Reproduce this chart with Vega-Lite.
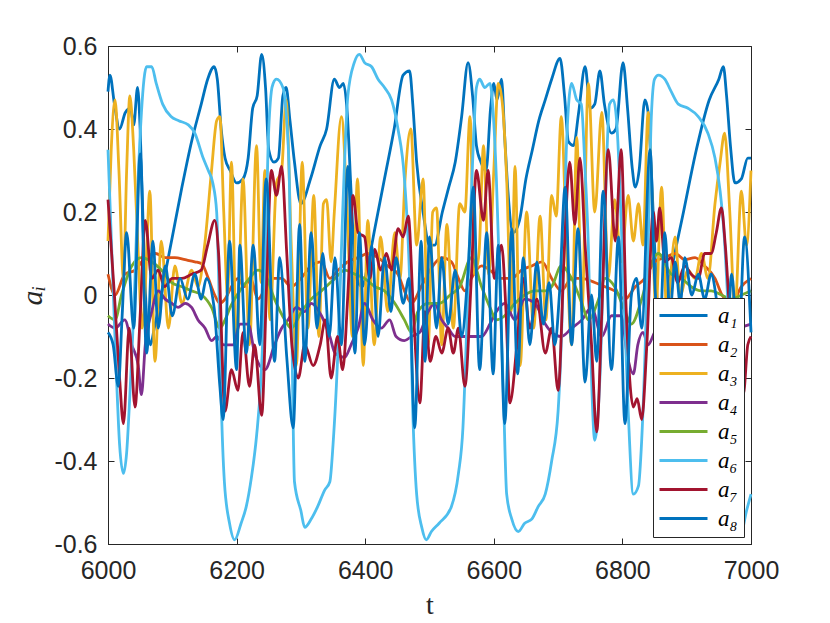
{
"$schema":"https://vega.github.io/schema/vega-lite/v6.json",
"width":643,"height":498,
"autosize":{"type":"none"},
"padding":{"left":108,"top":46,"right":79,"bottom":79},
"background":"white",
"config":{"view":{"stroke":"#262626","strokeWidth":1},"axis":{"grid":false,"labelFlush":false,"domainColor":"#262626","tickColor":"#262626","labelColor":"#262626","labelFont":"Liberation Sans","labelFontSize":25,"titleColor":"#262626"},"line":{"strokeWidth":2.8,"interpolate":"monotone","clip":true}},
"datasets":{
"a1":[{"t":6000,"v":0.49},{"t":6003,"v":0.53},{"t":6010,"v":0.46},{"t":6018,"v":0.40},{"t":6027,"v":0.44},{"t":6035,"v":0.45},{"t":6040,"v":0.41},{"t":6046,"v":0.50},{"t":6050,"v":0.40},{"t":6055,"v":0.15},{"t":6060,"v":-0.05},{"t":6066,"v":-0.12},{"t":6072,"v":-0.08},{"t":6085,"v":0.02},{"t":6100,"v":0.14},{"t":6115,"v":0.26},{"t":6130,"v":0.37},{"t":6145,"v":0.46},{"t":6155,"v":0.52},{"t":6165,"v":0.55},{"t":6170,"v":0.52},{"t":6176,"v":0.40},{"t":6182,"v":0.33},{"t":6190,"v":0.30},{"t":6200,"v":0.27},{"t":6210,"v":0.28},{"t":6218,"v":0.33},{"t":6225,"v":0.45},{"t":6232,"v":0.48},{"t":6239,"v":0.58},{"t":6245,"v":0.50},{"t":6250,"v":0.35},{"t":6258,"v":0.32},{"t":6265,"v":0.33},{"t":6272,"v":0.48},{"t":6277,"v":0.50},{"t":6283,"v":0.42},{"t":6290,"v":0.32},{"t":6300,"v":0.22},{"t":6315,"v":0.28},{"t":6330,"v":0.36},{"t":6340,"v":0.40},{"t":6352,"v":0.52},{"t":6360,"v":0.50},{"t":6366,"v":0.51},{"t":6372,"v":0.44},{"t":6378,"v":0.25},{"t":6385,"v":0.05},{"t":6395,"v":0.02},{"t":6405,"v":0.08},{"t":6415,"v":0.16},{"t":6430,"v":0.28},{"t":6445,"v":0.40},{"t":6459,"v":0.53},{"t":6469,"v":0.54},{"t":6474,"v":0.46},{"t":6480,"v":0.32},{"t":6490,"v":0.20},{"t":6500,"v":0.12},{"t":6508,"v":0.12},{"t":6520,"v":0.20},{"t":6530,"v":0.26},{"t":6540,"v":0.32},{"t":6550,"v":0.43},{"t":6560,"v":0.56},{"t":6567,"v":0.48},{"t":6573,"v":0.36},{"t":6580,"v":0.32},{"t":6588,"v":0.30},{"t":6595,"v":0.45},{"t":6600,"v":0.51},{"t":6605,"v":0.47},{"t":6612,"v":0.52},{"t":6617,"v":0.38},{"t":6622,"v":0.25},{"t":6630,"v":0.15},{"t":6640,"v":0.18},{"t":6650,"v":0.28},{"t":6660,"v":0.35},{"t":6670,"v":0.42},{"t":6680,"v":0.47},{"t":6690,"v":0.52},{"t":6703,"v":0.57},{"t":6710,"v":0.48},{"t":6716,"v":0.37},{"t":6724,"v":0.36},{"t":6732,"v":0.44},{"t":6742,"v":0.55},{"t":6750,"v":0.45},{"t":6757,"v":0.46},{"t":6765,"v":0.54},{"t":6772,"v":0.46},{"t":6783,"v":0.39},{"t":6790,"v":0.40},{"t":6801,"v":0.56},{"t":6808,"v":0.45},{"t":6815,"v":0.31},{"t":6820,"v":0.26},{"t":6826,"v":0.30},{"t":6835,"v":0.47},{"t":6840,"v":0.44},{"t":6845,"v":0.30},{"t":6852,"v":0.05},{"t":6858,"v":-0.10},{"t":6875,"v":0.05},{"t":6895,"v":0.20},{"t":6915,"v":0.35},{"t":6935,"v":0.47},{"t":6950,"v":0.52},{"t":6957,"v":0.55},{"t":6962,"v":0.48},{"t":6968,"v":0.36},{"t":6975,"v":0.27},{"t":6985,"v":0.28},{"t":6995,"v":0.33},{"t":7000,"v":0.33}],
"a2":[{"t":6000,"v":0.05},{"t":6011,"v":0.0},{"t":6026,"v":0.05},{"t":6042,"v":0.06},{"t":6058,"v":0.09},{"t":6074,"v":0.10},{"t":6089,"v":0.09},{"t":6104,"v":0.09},{"t":6120,"v":0.085},{"t":6135,"v":0.08},{"t":6146,"v":0.075},{"t":6156,"v":0.04},{"t":6166,"v":0.0},{"t":6174,"v":-0.02},{"t":6182,"v":-0.01},{"t":6192,"v":0.02},{"t":6202,"v":0.04},{"t":6212,"v":0.02},{"t":6222,"v":0.04},{"t":6233,"v":-0.01},{"t":6246,"v":0.02},{"t":6257,"v":0.04},{"t":6270,"v":0.04},{"t":6285,"v":0.02},{"t":6300,"v":0.04},{"t":6316,"v":0.07},{"t":6332,"v":0.08},{"t":6345,"v":0.04},{"t":6358,"v":0.06},{"t":6373,"v":0.08},{"t":6389,"v":0.09},{"t":6404,"v":0.10},{"t":6420,"v":0.09},{"t":6435,"v":0.07},{"t":6451,"v":0.05},{"t":6461,"v":0.01},{"t":6472,"v":-0.02},{"t":6487,"v":0.02},{"t":6503,"v":0.065},{"t":6519,"v":0.09},{"t":6534,"v":0.08},{"t":6545,"v":0.04},{"t":6555,"v":0.01},{"t":6565,"v":0.04},{"t":6581,"v":0.07},{"t":6594,"v":0.06},{"t":6610,"v":0.04},{"t":6628,"v":0.04},{"t":6643,"v":0.06},{"t":6659,"v":0.07},{"t":6675,"v":0.08},{"t":6690,"v":0.04},{"t":6705,"v":0.01},{"t":6721,"v":0.04},{"t":6737,"v":0.04},{"t":6757,"v":0.03},{"t":6773,"v":0.02},{"t":6788,"v":0.01},{"t":6804,"v":-0.01},{"t":6820,"v":0.02},{"t":6835,"v":0.04},{"t":6850,"v":0.08},{"t":6866,"v":0.09},{"t":6882,"v":0.10},{"t":6897,"v":0.085},{"t":6913,"v":0.09},{"t":6928,"v":0.07},{"t":6944,"v":0.04},{"t":6955,"v":0.0},{"t":6970,"v":-0.02},{"t":6985,"v":0.02},{"t":7000,"v":0.04}],
"a3":[{"t":6000,"v":0.13},{"t":6005,"v":0.35},{"t":6011,"v":0.47},{"t":6017,"v":0.30},{"t":6024,"v":0.04},{"t":6029,"v":0.30},{"t":6034,"v":0.48},{"t":6040,"v":0.35},{"t":6047,"v":0.10},{"t":6053,"v":-0.08},{"t":6058,"v":0.02},{"t":6065,"v":0.25},{"t":6073,"v":-0.16},{"t":6083,"v":0.13},{"t":6094,"v":-0.08},{"t":6104,"v":0.07},{"t":6115,"v":-0.02},{"t":6130,"v":0.06},{"t":6140,"v":0.02},{"t":6151,"v":0.13},{"t":6161,"v":0.30},{"t":6169,"v":0.42},{"t":6174,"v":0.43},{"t":6180,"v":0.20},{"t":6186,"v":0.0},{"t":6192,"v":0.32},{"t":6200,"v":-0.12},{"t":6210,"v":0.28},{"t":6220,"v":-0.12},{"t":6231,"v":0.36},{"t":6238,"v":0.03},{"t":6244,"v":0.30},{"t":6252,"v":-0.06},{"t":6262,"v":0.27},{"t":6270,"v":0.30},{"t":6277,"v":0.47},{"t":6285,"v":0.12},{"t":6293,"v":-0.17},{"t":6302,"v":0.32},{"t":6311,"v":-0.08},{"t":6320,"v":0.24},{"t":6328,"v":-0.10},{"t":6335,"v":0.22},{"t":6340,"v":0.23},{"t":6347,"v":0.08},{"t":6352,"v":0.20},{"t":6363,"v":0.43},{"t":6372,"v":0.20},{"t":6380,"v":-0.10},{"t":6388,"v":0.28},{"t":6397,"v":-0.17},{"t":6404,"v":0.18},{"t":6414,"v":-0.12},{"t":6424,"v":0.14},{"t":6435,"v":-0.04},{"t":6446,"v":0.15},{"t":6454,"v":0.04},{"t":6462,"v":0.28},{"t":6471,"v":0.40},{"t":6480,"v":0.12},{"t":6490,"v":0.28},{"t":6498,"v":-0.12},{"t":6505,"v":0.20},{"t":6511,"v":0.21},{"t":6519,"v":-0.12},{"t":6527,"v":0.17},{"t":6537,"v":-0.08},{"t":6547,"v":0.22},{"t":6555,"v":0.20},{"t":6563,"v":0.43},{"t":6570,"v":0.05},{"t":6577,"v":0.10},{"t":6584,"v":0.36},{"t":6592,"v":0.05},{"t":6600,"v":0.30},{"t":6607,"v":0.51},{"t":6614,"v":0.45},{"t":6620,"v":0.28},{"t":6627,"v":-0.04},{"t":6633,"v":0.31},{"t":6641,"v":-0.17},{"t":6651,"v":0.20},{"t":6662,"v":-0.08},{"t":6672,"v":0.19},{"t":6681,"v":-0.06},{"t":6690,"v":0.24},{"t":6697,"v":0.19},{"t":6705,"v":0.43},{"t":6713,"v":0.12},{"t":6721,"v":-0.12},{"t":6729,"v":0.38},{"t":6737,"v":-0.04},{"t":6747,"v":0.51},{"t":6757,"v":0.20},{"t":6768,"v":0.44},{"t":6778,"v":0.04},{"t":6788,"v":0.23},{"t":6798,"v":0.08},{"t":6809,"v":0.24},{"t":6817,"v":0.13},{"t":6825,"v":0.22},{"t":6832,"v":0.12},{"t":6840,"v":0.44},{"t":6845,"v":0.28},{"t":6852,"v":-0.04},{"t":6861,"v":0.26},{"t":6869,"v":-0.04},{"t":6882,"v":0.14},{"t":6890,"v":0.0},{"t":6902,"v":0.06},{"t":6913,"v":0.04},{"t":6923,"v":0.10},{"t":6933,"v":0.04},{"t":6944,"v":0.22},{"t":6952,"v":0.32},{"t":6959,"v":0.39},{"t":6967,"v":0.20},{"t":6975,"v":-0.04},{"t":6985,"v":0.25},{"t":6993,"v":0.12},{"t":7000,"v":0.30}],
"a4":[{"t":6000,"v":-0.07},{"t":6011,"v":-0.08},{"t":6026,"v":-0.06},{"t":6037,"v":-0.12},{"t":6047,"v":-0.17},{"t":6052,"v":-0.24},{"t":6058,"v":-0.12},{"t":6068,"v":-0.04},{"t":6078,"v":0.01},{"t":6089,"v":-0.01},{"t":6099,"v":-0.02},{"t":6109,"v":-0.03},{"t":6120,"v":-0.02},{"t":6130,"v":-0.03},{"t":6140,"v":-0.06},{"t":6151,"v":-0.08},{"t":6161,"v":-0.11},{"t":6169,"v":-0.10},{"t":6180,"v":-0.12},{"t":6195,"v":-0.12},{"t":6205,"v":-0.07},{"t":6218,"v":-0.07},{"t":6228,"v":-0.14},{"t":6244,"v":-0.18},{"t":6259,"v":-0.12},{"t":6270,"v":-0.08},{"t":6280,"v":-0.06},{"t":6293,"v":-0.03},{"t":6306,"v":-0.04},{"t":6316,"v":-0.02},{"t":6332,"v":-0.05},{"t":6345,"v":-0.10},{"t":6353,"v":-0.14},{"t":6368,"v":-0.15},{"t":6378,"v":-0.12},{"t":6389,"v":-0.08},{"t":6399,"v":-0.02},{"t":6412,"v":-0.06},{"t":6425,"v":-0.08},{"t":6438,"v":-0.06},{"t":6448,"v":-0.10},{"t":6461,"v":-0.11},{"t":6472,"v":-0.10},{"t":6485,"v":-0.09},{"t":6498,"v":-0.04},{"t":6508,"v":-0.02},{"t":6519,"v":-0.06},{"t":6529,"v":-0.08},{"t":6540,"v":-0.10},{"t":6555,"v":-0.10},{"t":6566,"v":-0.10},{"t":6581,"v":-0.10},{"t":6594,"v":-0.07},{"t":6604,"v":-0.04},{"t":6617,"v":-0.02},{"t":6633,"v":-0.06},{"t":6648,"v":-0.01},{"t":6664,"v":-0.02},{"t":6680,"v":-0.07},{"t":6690,"v":-0.09},{"t":6705,"v":-0.10},{"t":6721,"v":-0.08},{"t":6737,"v":-0.06},{"t":6752,"v":-0.03},{"t":6768,"v":-0.10},{"t":6783,"v":-0.05},{"t":6798,"v":-0.05},{"t":6808,"v":-0.15},{"t":6817,"v":-0.19},{"t":6824,"v":-0.12},{"t":6832,"v":-0.09},{"t":6840,"v":-0.12},{"t":6850,"v":-0.09},{"t":6870,"v":-0.05},{"t":6900,"v":-0.06},{"t":6930,"v":-0.07},{"t":6960,"v":-0.09},{"t":6980,"v":-0.08},{"t":7000,"v":-0.07}],
"a5":[{"t":6000,"v":-0.05},{"t":6011,"v":-0.06},{"t":6021,"v":0.0},{"t":6037,"v":0.07},{"t":6052,"v":0.09},{"t":6068,"v":0.08},{"t":6083,"v":0.06},{"t":6099,"v":0.03},{"t":6115,"v":0.02},{"t":6130,"v":0.01},{"t":6146,"v":0.0},{"t":6161,"v":-0.03},{"t":6174,"v":-0.08},{"t":6182,"v":-0.06},{"t":6190,"v":-0.03},{"t":6205,"v":0.01},{"t":6220,"v":0.04},{"t":6233,"v":0.06},{"t":6244,"v":0.05},{"t":6259,"v":-0.01},{"t":6275,"v":-0.06},{"t":6285,"v":-0.08},{"t":6301,"v":-0.04},{"t":6316,"v":-0.01},{"t":6332,"v":0.01},{"t":6353,"v":0.04},{"t":6368,"v":0.06},{"t":6384,"v":0.05},{"t":6399,"v":0.04},{"t":6415,"v":0.02},{"t":6430,"v":0.01},{"t":6446,"v":-0.02},{"t":6461,"v":-0.06},{"t":6472,"v":-0.09},{"t":6482,"v":-0.04},{"t":6498,"v":-0.02},{"t":6516,"v":-0.02},{"t":6532,"v":0.0},{"t":6547,"v":0.02},{"t":6565,"v":0.09},{"t":6581,"v":0.02},{"t":6594,"v":-0.03},{"t":6604,"v":-0.06},{"t":6617,"v":-0.05},{"t":6633,"v":-0.02},{"t":6648,"v":0.0},{"t":6664,"v":0.01},{"t":6680,"v":0.01},{"t":6690,"v":0.02},{"t":6705,"v":0.07},{"t":6721,"v":0.04},{"t":6737,"v":-0.02},{"t":6747,"v":-0.06},{"t":6763,"v":-0.01},{"t":6773,"v":0.04},{"t":6788,"v":0.02},{"t":6804,"v":-0.04},{"t":6814,"v":-0.07},{"t":6830,"v":-0.01},{"t":6846,"v":0.08},{"t":6856,"v":0.10},{"t":6876,"v":0.05},{"t":6892,"v":0.04},{"t":6907,"v":0.02},{"t":6923,"v":0.01},{"t":6938,"v":0.01},{"t":6954,"v":0.0},{"t":6970,"v":-0.01},{"t":6985,"v":0.0},{"t":7000,"v":0.01}],
"a6":[{"t":6000,"v":0.35},{"t":6006,"v":0.10},{"t":6012,"v":-0.15},{"t":6018,"v":-0.36},{"t":6024,"v":-0.43},{"t":6029,"v":-0.38},{"t":6034,"v":-0.24},{"t":6042,"v":0.04},{"t":6047,"v":0.28},{"t":6052,"v":0.44},{"t":6060,"v":0.55},{"t":6068,"v":0.55},{"t":6075,"v":0.51},{"t":6085,"v":0.46},{"t":6098,"v":0.43},{"t":6110,"v":0.42},{"t":6125,"v":0.41},{"t":6135,"v":0.39},{"t":6148,"v":0.33},{"t":6156,"v":0.30},{"t":6163,"v":0.27},{"t":6169,"v":0.20},{"t":6172,"v":0.05},{"t":6176,"v":-0.25},{"t":6181,"v":-0.45},{"t":6189,"v":-0.55},{"t":6197,"v":-0.59},{"t":6207,"v":-0.55},{"t":6215,"v":-0.51},{"t":6223,"v":-0.44},{"t":6231,"v":-0.34},{"t":6238,"v":-0.20},{"t":6244,"v":0.04},{"t":6249,"v":0.36},{"t":6254,"v":0.49},{"t":6257,"v":0.51},{"t":6262,"v":0.52},{"t":6272,"v":0.50},{"t":6277,"v":0.44},{"t":6282,"v":0.28},{"t":6286,"v":-0.10},{"t":6290,"v":-0.45},{"t":6300,"v":-0.52},{"t":6306,"v":-0.56},{"t":6316,"v":-0.54},{"t":6326,"v":-0.51},{"t":6337,"v":-0.47},{"t":6345,"v":-0.45},{"t":6350,"v":-0.36},{"t":6358,"v":-0.12},{"t":6365,"v":0.20},{"t":6373,"v":0.48},{"t":6383,"v":0.56},{"t":6391,"v":0.58},{"t":6399,"v":0.56},{"t":6410,"v":0.55},{"t":6420,"v":0.52},{"t":6430,"v":0.50},{"t":6441,"v":0.47},{"t":6451,"v":0.40},{"t":6461,"v":0.28},{"t":6469,"v":0.04},{"t":6474,"v":-0.28},{"t":6480,"v":-0.48},{"t":6488,"v":-0.56},{"t":6495,"v":-0.59},{"t":6503,"v":-0.57},{"t":6515,"v":-0.55},{"t":6534,"v":-0.51},{"t":6545,"v":-0.43},{"t":6552,"v":-0.32},{"t":6557,"v":-0.12},{"t":6562,"v":0.12},{"t":6568,"v":0.36},{"t":6573,"v":0.50},{"t":6578,"v":0.52},{"t":6586,"v":0.50},{"t":6594,"v":0.51},{"t":6599,"v":0.44},{"t":6604,"v":0.28},{"t":6609,"v":0.04},{"t":6615,"v":-0.24},{"t":6620,"v":-0.48},{"t":6628,"v":-0.54},{"t":6638,"v":-0.57},{"t":6648,"v":-0.55},{"t":6659,"v":-0.54},{"t":6669,"v":-0.51},{"t":6680,"v":-0.48},{"t":6690,"v":-0.40},{"t":6700,"v":-0.28},{"t":6708,"v":0.04},{"t":6713,"v":0.36},{"t":6721,"v":0.51},{"t":6729,"v":0.47},{"t":6736,"v":0.46},{"t":6742,"v":0.30},{"t":6747,"v":0.12},{"t":6752,"v":-0.20},{"t":6757,"v":-0.35},{"t":6765,"v":-0.20},{"t":6773,"v":0.20},{"t":6780,"v":0.46},{"t":6786,"v":0.47},{"t":6791,"v":0.42},{"t":6800,"v":0.10},{"t":6809,"v":-0.28},{"t":6817,"v":-0.48},{"t":6825,"v":-0.46},{"t":6830,"v":-0.35},{"t":6836,"v":-0.10},{"t":6840,"v":0.12},{"t":6845,"v":0.43},{"t":6850,"v":0.52},{"t":6856,"v":0.53},{"t":6866,"v":0.52},{"t":6876,"v":0.49},{"t":6887,"v":0.46},{"t":6902,"v":0.45},{"t":6918,"v":0.43},{"t":6933,"v":0.39},{"t":6944,"v":0.33},{"t":6952,"v":0.25},{"t":6958,"v":0.15},{"t":6965,"v":-0.05},{"t":6972,"v":-0.30},{"t":6980,"v":-0.50},{"t":6985,"v":-0.57},{"t":6993,"v":-0.52},{"t":7000,"v":-0.48}],
"a7":[{"t":6000,"v":0.23},{"t":6010,"v":0.0},{"t":6018,"v":-0.20},{"t":6024,"v":-0.31},{"t":6033,"v":-0.08},{"t":6042,"v":-0.27},{"t":6050,"v":-0.05},{"t":6058,"v":0.18},{"t":6068,"v":0.04},{"t":6078,"v":0.06},{"t":6088,"v":0.02},{"t":6100,"v":0.04},{"t":6115,"v":0.04},{"t":6130,"v":0.05},{"t":6145,"v":0.06},{"t":6155,"v":0.12},{"t":6166,"v":0.18},{"t":6172,"v":0.10},{"t":6182,"v":-0.28},{"t":6192,"v":-0.18},{"t":6202,"v":-0.23},{"t":6210,"v":-0.09},{"t":6220,"v":-0.22},{"t":6228,"v":-0.12},{"t":6239,"v":-0.29},{"t":6247,"v":0.04},{"t":6254,"v":0.30},{"t":6262,"v":0.24},{"t":6270,"v":0.31},{"t":6278,"v":0.10},{"t":6286,"v":-0.12},{"t":6296,"v":-0.20},{"t":6306,"v":-0.12},{"t":6319,"v":-0.17},{"t":6330,"v":-0.12},{"t":6338,"v":-0.06},{"t":6347,"v":-0.20},{"t":6357,"v":-0.10},{"t":6365,"v":-0.18},{"t":6373,"v":0.0},{"t":6381,"v":0.24},{"t":6389,"v":0.15},{"t":6399,"v":0.14},{"t":6407,"v":0.04},{"t":6415,"v":0.11},{"t":6424,"v":0.06},{"t":6433,"v":0.10},{"t":6441,"v":0.06},{"t":6451,"v":0.16},{"t":6459,"v":0.14},{"t":6467,"v":0.19},{"t":6475,"v":-0.04},{"t":6485,"v":-0.26},{"t":6493,"v":-0.04},{"t":6501,"v":-0.16},{"t":6510,"v":-0.10},{"t":6519,"v":-0.14},{"t":6529,"v":-0.08},{"t":6537,"v":-0.14},{"t":6545,"v":-0.08},{"t":6555,"v":-0.22},{"t":6565,"v":0.04},{"t":6573,"v":0.30},{"t":6584,"v":0.18},{"t":6591,"v":0.30},{"t":6601,"v":0.04},{"t":6612,"v":0.12},{"t":6619,"v":-0.04},{"t":6625,"v":-0.26},{"t":6636,"v":-0.12},{"t":6646,"v":0.04},{"t":6656,"v":-0.08},{"t":6667,"v":-0.01},{"t":6680,"v":-0.14},{"t":6690,"v":-0.08},{"t":6700,"v":-0.23},{"t":6710,"v":0.12},{"t":6718,"v":0.32},{"t":6726,"v":0.17},{"t":6734,"v":0.33},{"t":6742,"v":0.12},{"t":6752,"v":-0.12},{"t":6760,"v":-0.33},{"t":6768,"v":-0.04},{"t":6778,"v":0.35},{"t":6789,"v":0.13},{"t":6798,"v":0.35},{"t":6806,"v":-0.04},{"t":6817,"v":-0.27},{"t":6823,"v":-0.25},{"t":6830,"v":-0.30},{"t":6838,"v":-0.12},{"t":6848,"v":0.20},{"t":6853,"v":0.13},{"t":6858,"v":0.21},{"t":6866,"v":0.08},{"t":6876,"v":0.09},{"t":6886,"v":0.03},{"t":6897,"v":0.07},{"t":6907,"v":0.05},{"t":6918,"v":0.04},{"t":6928,"v":0.10},{"t":6938,"v":0.10},{"t":6946,"v":0.15},{"t":6954,"v":0.21},{"t":6960,"v":0.12},{"t":6967,"v":-0.04},{"t":6978,"v":-0.16},{"t":6988,"v":-0.24},{"t":6995,"v":-0.12},{"t":7000,"v":-0.10}],
"a8":[{"t":6000,"v":-0.09},{"t":6008,"v":-0.12},{"t":6016,"v":-0.22},{"t":6022,"v":-0.05},{"t":6029,"v":0.15},{"t":6040,"v":-0.08},{"t":6050,"v":0.34},{"t":6060,"v":-0.14},{"t":6070,"v":0.13},{"t":6078,"v":-0.08},{"t":6089,"v":0.07},{"t":6100,"v":-0.05},{"t":6112,"v":0.04},{"t":6124,"v":-0.01},{"t":6135,"v":0.05},{"t":6145,"v":-0.01},{"t":6153,"v":0.04},{"t":6165,"v":-0.03},{"t":6174,"v":-0.22},{"t":6179,"v":-0.30},{"t":6189,"v":0.13},{"t":6200,"v":-0.18},{"t":6205,"v":0.12},{"t":6215,"v":-0.14},{"t":6226,"v":0.12},{"t":6236,"v":-0.12},{"t":6246,"v":0.28},{"t":6259,"v":-0.16},{"t":6267,"v":0.09},{"t":6278,"v":-0.15},{"t":6288,"v":-0.32},{"t":6298,"v":0.17},{"t":6306,"v":-0.16},{"t":6316,"v":0.15},{"t":6325,"v":-0.08},{"t":6334,"v":0.10},{"t":6344,"v":-0.10},{"t":6353,"v":0.09},{"t":6363,"v":-0.12},{"t":6373,"v":0.31},{"t":6384,"v":-0.14},{"t":6391,"v":0.15},{"t":6399,"v":-0.12},{"t":6410,"v":0.12},{"t":6420,"v":-0.10},{"t":6430,"v":0.09},{"t":6440,"v":-0.04},{"t":6448,"v":0.09},{"t":6459,"v":-0.02},{"t":6468,"v":0.04},{"t":6477,"v":-0.32},{"t":6487,"v":0.13},{"t":6493,"v":-0.16},{"t":6500,"v":0.14},{"t":6511,"v":-0.08},{"t":6519,"v":0.09},{"t":6529,"v":-0.07},{"t":6540,"v":0.06},{"t":6550,"v":-0.10},{"t":6560,"v":0.06},{"t":6568,"v":0.26},{"t":6578,"v":-0.18},{"t":6589,"v":0.15},{"t":6599,"v":-0.19},{"t":6607,"v":0.12},{"t":6617,"v":-0.31},{"t":6628,"v":0.16},{"t":6637,"v":-0.19},{"t":6646,"v":0.09},{"t":6656,"v":-0.12},{"t":6667,"v":0.08},{"t":6677,"v":-0.07},{"t":6686,"v":0.03},{"t":6695,"v":-0.12},{"t":6702,"v":0.0},{"t":6711,"v":0.26},{"t":6721,"v":-0.12},{"t":6731,"v":0.16},{"t":6742,"v":-0.21},{"t":6752,"v":0.0},{"t":6760,"v":-0.16},{"t":6770,"v":0.25},{"t":6783,"v":-0.18},{"t":6794,"v":0.14},{"t":6804,"v":-0.31},{"t":6814,"v":0.0},{"t":6822,"v":0.04},{"t":6830,"v":-0.08},{"t":6843,"v":0.35},{"t":6850,"v":0.04},{"t":6858,"v":-0.10},{"t":6866,"v":0.15},{"t":6874,"v":-0.04},{"t":6882,"v":0.08},{"t":6890,"v":-0.02},{"t":6897,"v":0.09},{"t":6908,"v":0.0},{"t":6918,"v":0.05},{"t":6928,"v":-0.01},{"t":6938,"v":0.05},{"t":6948,"v":-0.03},{"t":6960,"v":-0.20},{"t":6970,"v":0.05},{"t":6980,"v":-0.15},{"t":6990,"v":0.14},{"t":7000,"v":-0.09}]
},
"encoding":{
"x":{"field":"t","type":"quantitative","scale":{"domain":[6000,7000],"nice":false},"axis":null},
"y":{"field":"v","type":"quantitative","scale":{"domain":[-0.6,0.6],"nice":false,"zero":false},"axis":null}
},
"layer":[
{"data":{"name":"a1"},"mark":"line","encoding":{
"x":{"field":"t","type":"quantitative","scale":{"domain":[6000,7000],"nice":false},"axis":{"values":[6000,6200,6400,6600,6800,7000],"format":"d","labelFlush":false,"tickSize":-6,"labelPadding":20,"title":"t","titleFont":"Liberation Serif","titleFontSize":28,"titleFontWeight":"normal","titlePadding":8}},
"y":{"field":"v","type":"quantitative","scale":{"domain":[-0.6,0.6],"nice":false,"zero":false},"axis":{"values":[-0.6,-0.4,-0.2,0,0.2,0.4,0.6],"labelFlush":false,"tickSize":-6,"labelPadding":17,"labelExpr":"datum.value == 0 ? '0' : (datum.value < 0 ? '-' + format(-datum.value, '.1f') : format(datum.value, '.1f'))","title":"aᵢ","titleFont":"Liberation Serif","titleFontStyle":"italic","titleFontSize":30,"titleFontWeight":"normal","titlePadding":6}},
"color":{"datum":"a1","type":"nominal","scale":{"domain":["a1","a2","a3","a4","a5","a6","a7","a8"],"range":["#0072BD","#D95319","#EDB120","#7E2F8E","#77AC30","#4DBEEE","#A2142F","#0072BD"]},"legend":{"orient":"none","legendX":545,"legendY":252,"title":null,"strokeColor":"#262626","fillColor":"white","padding":6,"symbolType":"M-3,0H3","symbolSize":256,"symbolStrokeWidth":3,"symbolOffset":13,"labelOffset":23,"rowPadding":5,"labelFont":"Liberation Serif","labelFontStyle":"italic","labelFontSize":23,"labelColor":"black","labelExpr":"{'a1':'a₁','a2':'a₂','a3':'a₃','a4':'a₄','a5':'a₅','a6':'a₆','a7':'a₇','a8':'a₈'}[datum.label]"}}}},
{"data":{"name":"a2"},"mark":"line","encoding":{"color":{"datum":"a2","type":"nominal"}}},
{"data":{"name":"a3"},"mark":"line","encoding":{"color":{"datum":"a3","type":"nominal"}}},
{"data":{"name":"a4"},"mark":"line","encoding":{"color":{"datum":"a4","type":"nominal"}}},
{"data":{"name":"a5"},"mark":"line","encoding":{"color":{"datum":"a5","type":"nominal"}}},
{"data":{"name":"a6"},"mark":"line","encoding":{"color":{"datum":"a6","type":"nominal"}}},
{"data":{"name":"a7"},"mark":"line","encoding":{"color":{"datum":"a7","type":"nominal"}}},
{"data":{"name":"a8"},"mark":"line","encoding":{"color":{"datum":"a8","type":"nominal"}}},
{"data":{"name":"a1"},"mark":{"type":"line","strokeOpacity":0},"encoding":{
"x":{"field":"t","type":"quantitative","scale":{"domain":[6000,7000],"nice":false},"axis":{"orient":"top","values":[6000,6200,6400,6600,6800,7000],"tickSize":-6,"labels":false,"domain":false,"title":null}},
"y":{"field":"v","type":"quantitative","scale":{"domain":[-0.6,0.6],"nice":false,"zero":false},"axis":{"orient":"right","values":[-0.6,-0.4,-0.2,0,0.2,0.4,0.6],"tickSize":-6,"labels":false,"domain":false,"title":null}}}}
],
"resolve":{"axis":{"x":"independent","y":"independent"}}
}
